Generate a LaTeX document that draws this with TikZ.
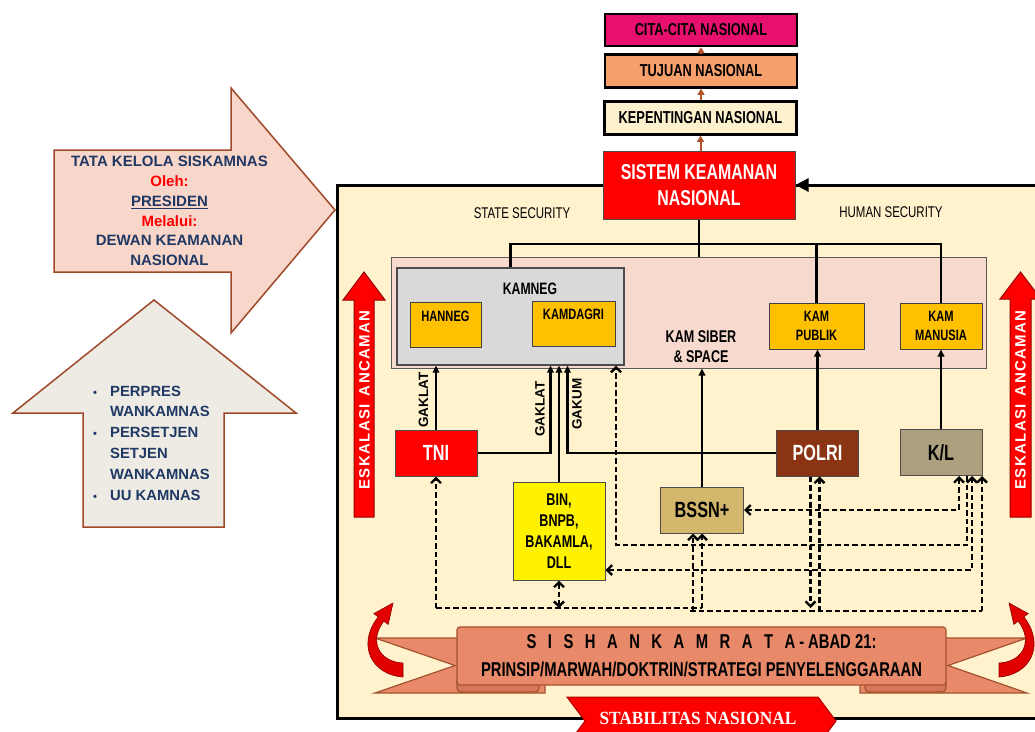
\documentclass[tikz,border=0pt]{standalone}
\usepackage{fontspec}
\setmainfont{Liberation Sans}
\newfontfamily\sempit[FakeStretch=0.74]{Liberation Sans}
\newfontfamily\serifsempit[FakeStretch=0.93]{Liberation Serif}
\newfontfamily\renggang[LetterSpace=9]{Liberation Sans}
\usetikzlibrary{arrows.meta}
\usetikzlibrary{calc}
\usetikzlibrary{positioning}

\definecolor{citacolor}{HTML}{E8106E}
\definecolor{tujuancolor}{HTML}{F7A06B}
\definecolor{kepcolor}{HTML}{FDF1CE}
\definecolor{krem}{HTML}{FFF2CC}
\definecolor{pinkpanel}{HTML}{F7D9CD}
\definecolor{abukamneg}{HTML}{D9D9D9}
\definecolor{kamamber}{HTML}{FFC000}
\definecolor{coklatpolri}{HTML}{8B3413}
\definecolor{tankl}{HTML}{ADA07E}
\definecolor{khaki}{HTML}{D2B76C}
\definecolor{pitawarna}{HTML}{E8896A}
\definecolor{pitagelap}{HTML}{D8765A}
\definecolor{pitagaris}{HTML}{A3522F}
\definecolor{panahpink}{HTML}{F8D6C9}
\definecolor{panahabu}{HTML}{EEEBE5}
\definecolor{coklatgaris}{HTML}{A0492A}
\definecolor{biru}{HTML}{1F3864}
\definecolor{coklatpanah}{HTML}{B5532C}
\definecolor{merahlengkung}{HTML}{E00000}
\definecolor{merahtua}{HTML}{8B0000}

\newcommand{\ukuran}[2]{\fontsize{#1}{#2}\selectfont}
\newcommand{\jarak}{\hspace{11.5pt}}
\newcommand{\butir}{\makebox[19pt][l]{\hspace{2pt}\scalebox{0.75}{\textbullet}}}
\newcommand{\sela}{\makebox[19pt]{}}

\begin{document}
\begin{tikzpicture}[x=1pt, y=-1pt,
    kotakatas/.style={draw=black, line width=2.5pt, minimum width=192pt, minimum height=32pt, inner sep=0pt, font=\sempit\bfseries\ukuran{17.3}{20}},
    kotakkam/.style={draw=gray!50!black, line width=1pt, fill=kamamber, inner sep=0pt, font=\sempit\bfseries\ukuran{15}{19}},
    kotaklembaga/.style={draw=gray!60!black, line width=1pt, minimum width=82pt, minimum height=46pt, inner sep=0pt, font=\sempit\bfseries\ukuran{22}{24}},
    tulisgak/.style={rotate=90, font=\bfseries\ukuran{13.5}{16}},
    garis/.style={line width=2.2pt},
    panah/.style={line width=2.2pt, -{Triangle[length=7pt,width=6.5pt]}},
    panahcoklat/.style={draw=coklatpanah, line width=2pt, -{Triangle[length=6pt,width=7pt]}},
    putus/.style={line width=2.4pt, dash pattern=on 5.5pt off 3pt},
    panahputus/.style={putus, -{Straight Barb[length=5pt,width=10pt]}},
    panahputusdua/.style={putus, {Straight Barb[length=5pt,width=10pt]}-{Straight Barb[length=5pt,width=10pt]}},
    eskalasi/.style={fill=red, draw=red!60!black, line width=1pt},
    pita/.style={draw=pitagaris, line width=1.2pt},
  ]
    \useasboundingbox (0,0) rectangle (1035,731);
    \fill[white] (0,0) rectangle (1035,731);

    \draw[fill=panahpink, draw=coklatgaris, line width=1.5pt] (54,150) -- (231,150) -- (231,88) -- (335,210) -- (231,333) -- (231,272) -- (54,272) -- cycle;
    \node[align=center, text=biru, font=\bfseries\ukuran{15}{19.8}] (tatakelola) at (169.5,211) {TATA KELOLA SISKAMNAS\\\textcolor{red}{Oleh:}\\\underline{PRESIDEN}\\\textcolor{red}{Melalui:}\\DEWAN KEAMANAN\\NASIONAL};
    \draw[fill=panahabu, draw=coklatgaris, line width=1.5pt] (83,527) -- (83,413) -- (13,413) -- (154,300) -- (296,413) -- (224,413) -- (224,527) -- cycle;
    \node[anchor=north west, align=left, inner sep=0pt, text=biru, font=\bfseries\ukuran{14.8}{20.8}] (dasarhukum) at (91,385.5) {\butir PERPRES\\\sela WANKAMNAS\\\butir PERSETJEN\\\sela SETJEN\\\sela WANKAMNAS\\\butir UU KAMNAS};

    \draw[fill=krem, line width=3pt] (1045,185) -- (337,185) -- (337,718) -- (1045,718);
    \node[font=\sempit\ukuran{15.5}{18}] (state) at (522,213) {STATE SECURITY};
    \node[font=\sempit\ukuran{15.5}{18}] (human) at (891,212) {HUMAN SECURITY};

    \node[kotakatas, fill=citacolor] (cita) at (701,30) {CITA-CITA NASIONAL};
    \node[kotakatas, fill=tujuancolor, minimum height=33pt] (tujuan) at (701,71) {TUJUAN NASIONAL};
    \node[kotakatas, fill=kepcolor, minimum height=33pt] (kepentingan) at (700.5,118) {KEPENTINGAN NASIONAL};
    \node[draw=gray!60!black, line width=1pt, fill=red, text=white, minimum width=192pt, minimum height=68pt, align=center, inner sep=0pt, font=\sempit\bfseries\ukuran{21.5}{26}] (siskamnas) at (699,185) {SISTEM KEAMANAN\\NASIONAL};

    \draw[panahcoklat] (kepentingan.south |- siskamnas.north) -- (kepentingan.south);
    \draw[panahcoklat] (tujuan.south |- kepentingan.north) -- (tujuan.south);
    \draw[panahcoklat] (cita.south |- tujuan.north) -- (cita.south);
    \draw[line width=3pt, -{Triangle[length=13pt,width=13pt]}] (1045,185) -- (siskamnas.east);

    \node[draw=gray!70!black, line width=1pt, fill=pinkpanel, minimum width=595pt, minimum height=111pt, inner sep=0pt] (kampanel) at (688.5,312.5) {};
    \node[draw=gray!60!black, line width=1.2pt, fill=abukamneg, minimum width=227pt, minimum height=97pt, inner sep=0pt] (kamneg) at (510.5,316.5) {};
    \node[font=\sempit\bfseries\ukuran{16.5}{19}] (kamneglabel) at (530,289) {KAMNEG};
    \node[kotakkam, minimum width=71pt, minimum height=45pt, text depth=17pt] (hanneg) at (445.5,324.5) {HANNEG};
    \node[kotakkam, minimum width=83pt, minimum height=45pt, text depth=19pt] (kamdagri) at (573.5,323.5) {KAMDAGRI};
    \node[kotakkam, align=center, minimum width=95pt, minimum height=46pt] (kampublik) at (816.5,326) {KAM\\PUBLIK};
    \node[kotakkam, align=center, minimum width=82pt, minimum height=46pt] (kammanusia) at (941,326) {KAM\\MANUSIA};
    \node[align=center, font=\sempit\bfseries\ukuran{17}{20}] (kamsiber) at (701,347) {KAM SIBER\\\& SPACE};

    \node[kotaklembaga, fill=red, text=white] (tni) at (436,453) {TNI};
    \node[kotaklembaga, fill=coklatpolri, text=white] (polri) at (817.5,453) {POLRI};
    \node[kotaklembaga, fill=tankl] (kl) at (941,452.5) {K/L};
    \node[kotaklembaga, fill=khaki, minimum width=83pt] (bssn) at (702,510) {BSSN+};
    \node[draw=gray!60!black, line width=1pt, fill=yellow, minimum width=92pt, minimum height=98pt, inner sep=0pt, align=center, font=\sempit\bfseries\ukuran{17}{21}] (bin) at (559,531) {BIN,\\BNPB,\\BAKAMLA,\\DLL};

    \coordinate (cabang) at (699,244);
    \draw[garis] (siskamnas.south) -- (siskamnas.south |- kampanel.north);
    \draw[garis] (kamneg.north) |- (cabang) -| (kammanusia.north);
    \draw[garis] (kampublik.north) -- (kampublik.north |- cabang);

    \draw[panah] (tni.north) -- (tni.north |- kamneg.south);
    \draw[panah] (tni.east) -| ([xshift=40pt]kamneg.south);
    \draw[panah] (bin.north) -- (bin.north |- kamneg.south);
    \draw[panah] (polri.west) -| ([xshift=57pt]kamneg.south);
    \draw[panah] (bssn.north) -- (bssn.north |- kampanel.south);
    \draw[panah] (polri.north) -- (polri.north |- kampublik.south);
    \draw[panah] (kl.north) -- (kl.north |- kammanusia.south);

    \node[tulisgak] (gaklattni) at (423.5,400) {GAKLAT};
    \node[tulisgak] (gaklatbin) at (540,409) {GAKLAT};
    \node[tulisgak] (gakum) at (577,404) {GAKUM};

    \coordinate (dasarkiri) at (434,608);
    \coordinate (dasarkanan) at (982,611);
    \coordinate (belokkamneg) at (616,545);
    \draw[panahputus] (tni.south |- dasarkiri) -- (tni.south);
    \draw[putus] (tni.south |- dasarkiri) -- (bssn.south |- dasarkiri);
    \draw[panahputusdua] (bin.south) -- (bin.south |- dasarkiri);
    \draw[panahputus] (bssn.south |- dasarkiri) -- (bssn.south);
    \draw[panahputus] ([xshift=-9pt]bssn.south |- dasarkanan) -- ([xshift=-9pt]bssn.south);
    \draw[putus] ([xshift=-12pt]bssn.south |- dasarkanan) -- (dasarkanan);
    \draw[panahputus] (dasarkanan) -- (dasarkanan |- kl.south);
    \draw[panahputus] ([xshift=-7pt]polri.south) -- ([xshift=-7pt]polri.south |- dasarkiri);
    \draw[panahputus] ([xshift=2pt]polri.south |- dasarkanan) -- ([xshift=2pt]polri.south);
    \draw[panahputusdua] (bssn.east) -| ([xshift=18pt]kl.south);
    \draw[panahputus] ([xshift=26pt]kl.south) |- (belokkamneg) -- (belokkamneg |- kamneg.south);
    \draw[panahputusdua] ([yshift=-39pt]bin.east) -| ([xshift=31pt]kl.south);

    \draw[eskalasi] (354,517) -- (354,300) -- (343,300) -- (364,272) -- (385,300) -- (374,300) -- (374,517) -- cycle;
    \node[rotate=90, text=white, font=\renggang\bfseries\ukuran{15}{18}] (eskalasikiri) at (364.5,400) {ESKALASI\hspace{8pt}ANCAMAN};
    \draw[eskalasi] (1010,517) -- (1010,299) -- (1000,299) -- (1020.5,272) -- (1041,299) -- (1031,299) -- (1031,517) -- cycle;
    \node[rotate=90, text=white, font=\renggang\bfseries\ukuran{15}{18}] (eskalasikanan) at (1020.5,400) {ESKALASI\hspace{8pt}ANCAMAN};

    \draw[pita, fill=pitawarna] (375,638) -- (545,638) -- (545,693) -- (375,693) -- (455,665.5) -- cycle;
    \draw[pita, fill=pitawarna] (1027,638) -- (860,638) -- (860,693) -- (1027,693) -- (948,665.5) -- cycle;
    \draw[pita, fill=pitagelap, rounded corners=4pt] (457,678) rectangle (539,692);
    \draw[pita, fill=pitagelap, rounded corners=4pt] (865,678) rectangle (946,692);
    \node[pita, fill=pitawarna, rounded corners=3pt, minimum width=489pt, minimum height=58pt, inner sep=0pt, align=center, font=\sempit\bfseries\ukuran{20}{28}] (sishankamrata) at (701.5,656) {S\jarak I\jarak S\jarak H\jarak A\jarak N\jarak K\jarak A\jarak M\jarak R\jarak A\jarak T\jarak A\hspace{4pt}-\hspace{4pt}ABAD 21:\\PRINSIP/MARWAH/DOKTRIN/STRATEGI PENYELENGGARAAN};

    \foreach \skala/\geser in {1/0, -1/1402}
        \draw[draw=merahtua, fill=merahlengkung, line width=0.6pt, xshift=\geser pt, xscale=\skala] (403,663) -- (403,677) .. controls (372,675) and (356,645) .. (378.2,616.9) -- (373.8,613.6) -- (393,603) -- (388.2,624.4) -- (383.8,621.1) .. controls (368,642) and (380,662) .. (403,663) -- cycle;

    \draw[fill=red, draw=red!70!black, line width=1pt] (567,697) -- (818,697) -- (836,721) -- (818,745) -- (567,745) -- (585,721) -- cycle;
    \node[text=white, font=\serifsempit\bfseries\ukuran{18.6}{20}] (stabilitas) at (698,718.8) {STABILITAS NASIONAL};
\end{tikzpicture}
\end{document}
